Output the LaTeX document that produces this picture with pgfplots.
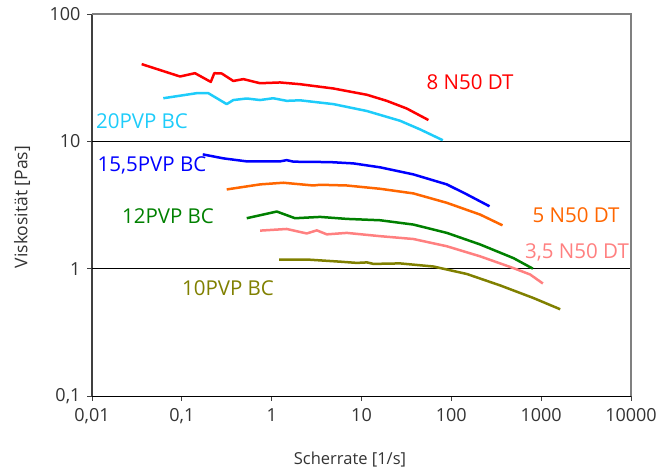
\documentclass[border=0pt]{standalone}
\usepackage{pgfplots}
\pgfplotsset{compat=1.18}
\usepackage{fontspec}
\setmainfont{Open Sans}
\definecolor{cRed}{RGB}{255,0,0}
\definecolor{cCyan}{RGB}{30,204,250}
\definecolor{cBlue}{RGB}{0,0,255}
\definecolor{cOrange}{RGB}{255,102,0}
\definecolor{cGreen}{RGB}{0,128,0}
\definecolor{cPink}{RGB}{255,128,128}
\definecolor{cOlive}{RGB}{128,128,0}
\definecolor{txt}{RGB}{51,51,51}
\begin{document}
\begin{tikzpicture}[x=1pt,y=1pt]
\useasboundingbox (-92,-78) rectangle (568,396);
\begin{axis}[at={(0,0)}, anchor=south west, scale only axis,
  width=539pt, height=382pt,
  xmode=log, ymode=log, xmin=0.01, xmax=10000, ymin=0.1, ymax=100,
  axis x line*=bottom, axis y line*=left,
  x axis line style={black, line width=1pt},
  y axis line style={black!75, line width=1.3pt},
  xminorticks=false, yminorticks=false,
  xtick={0.01,0.1,1,10,100,1000,10000},
  xticklabels={0{,}01,0{,}1,1,10,100,1000,10000},
  ytick={0.1,1,10,100},
  yticklabels={0{,}1,1,10,100},
  tick align=outside, major tick length=5pt,
  tick style={black!75, line width=0.8pt},
  tick label style={font=\fontsize{18}{20}\selectfont, text=txt},
  xticklabel style={yshift=-4pt},
  yticklabel style={xshift=-3pt},
  extra y ticks={1,10}, extra y tick labels={},
  extra y tick style={grid=major, major tick length=0pt},
  major grid style={black, line width=0.8pt},
  clip=false,
  every axis plot/.append style={line width=2.5pt, line join=round},
]
\draw[black!50, line width=1.2pt] (axis description cs:0,1) -- (axis description cs:1,1) -- (axis description cs:1,0);
\addplot[cRed] coordinates {(0.0357,40.4)(0.0955,32.3)(0.140,34.3)(0.210,29.3)(0.230,34.3)(0.278,34.1)(0.374,29.8)(0.484,30.8)(0.743,28.6)(1.24,29.0)(2.07,28.1)(4.87,26.0)(11.5,23.2)(19.1,20.8)(31.9,18.1)(55.6,14.7)};
\addplot[cCyan] coordinates {(0.0622,21.8)(0.147,23.9)(0.197,23.9)(0.316,19.6)(0.374,21.1)(0.528,21.7)(0.743,21.1)(1.04,21.8)(1.47,20.8)(2.07,21.0)(4.87,19.6)(11.5,17.3)(26.9,14.5)(45,12.4)(80.4,10.2)};
\addplot[cBlue] coordinates {(0.171,7.9)(0.29,7.35)(0.528,6.96)(1.24,6.96)(1.47,7.12)(1.75,6.92)(4.47,6.87)(8.13,6.71)(16.1,6.25)(37.8,5.50)(89.1,4.59)(149,3.83)(266,3.09)};
\addplot[cOrange] coordinates {(0.316,4.19)(0.743,4.59)(1.35,4.73)(2.91,4.50)(3.46,4.56)(6.86,4.50)(16.1,4.24)(37.8,3.90)(89.1,3.29)(209,2.66)(371,2.19)};
\addplot[cGreen] coordinates {(0.528,2.49)(1.14,2.81)(1.82,2.49)(3.46,2.55)(6.86,2.46)(16.1,2.40)(37.8,2.22)(89.1,1.91)(209,1.55)(492,1.21)(809,1.0)};
\addplot[cPink] coordinates {(0.743,1.99)(1.47,2.05)(2.46,1.89)(3.18,2.00)(4.11,1.86)(6.86,1.91)(16.1,1.80)(37.8,1.71)(89.1,1.50)(209,1.25)(492,1.01)(754,0.90)(1045,0.765)};
\addplot[cOlive] coordinates {(1.21,1.18)(2.46,1.18)(5.78,1.135)(8.87,1.11)(11.5,1.12)(13.6,1.09)(26.9,1.10)(63.2,1.04)(149,0.908)(349,0.739)(821,0.588)(1629,0.48)};
\end{axis}
\node[text=txt, font=\fontsize{16.5}{18}\selectfont] at (258,-64) {Scherrate [1/s]};
\node[text=txt, font=\fontsize{17.5}{19}\selectfont, rotate=90] at (-70,189) {Viskosität [Pas]};
\begin{scope}[font=\fontsize{20.5}{22}\selectfont]
\node[text=cRed] at (378,314) {8 N50 DT};
\node[text=cCyan] at (50,275) {20PVP BC};
\node[text=cBlue] at (60,231) {15,5PVP BC};
\node[text=cOrange] at (484,181) {5 N50 DT};
\node[text=cGreen] at (76,180) {12PVP BC};
\node[text=cPink] at (485,144) {3,5 N50 DT};
\node[text=cOlive] at (136,108) {10PVP BC};
\end{scope}
\end{tikzpicture}
\end{document}
